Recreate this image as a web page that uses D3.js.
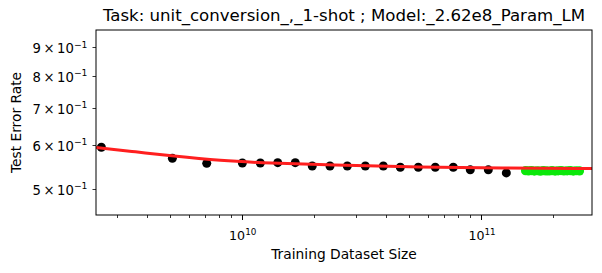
<!DOCTYPE html>
<html>
<head>
<meta charset="utf-8">
<script src="https://cdn.jsdelivr.net/npm/d3@7"></script>
<style>
  html, body { margin: 0; padding: 0; background: #fff; }
  svg { display: block; font-family: "DejaVu Sans", sans-serif; }
</style>
</head>
<body>
<svg id="chart" width="602" height="273"></svg>
<script>
// ---- data ----
const trainSizes = [2.59e9, 5.13e9, 7.14e9, 1.006e10, 1.196e10, 1.414e10, 1.674e10, 1.971e10,
  2.338e10, 2.762e10, 3.285e10, 3.907e10, 4.60e10, 5.47e10, 6.44e10, 7.66e10, 9.02e10, 1.073e11, 1.276e11];
const trainErrors = [0.5947, 0.568, 0.5563, 0.557, 0.557, 0.5578, 0.5578, 0.5502,
  0.5502, 0.5502, 0.5502, 0.5502, 0.5472, 0.5472, 0.5472, 0.5472, 0.5414, 0.5414, 0.5346];
const extraSizes = [1.535e11, 1.58e11, 1.625e11, 1.67e11, 1.72e11, 1.77e11, 1.82e11, 1.87e11, 1.925e11, 1.98e11,
  2.04e11, 2.1e11, 2.16e11, 2.22e11, 2.29e11, 2.36e11, 2.43e11, 2.5e11, 2.58e11];
const extraErrors = [0.5395, 0.5390, 0.5398, 0.5388, 0.5394, 0.5386, 0.5397, 0.5391, 0.5389, 0.5396,
  0.5387, 0.5393, 0.5398, 0.5389, 0.5392, 0.5395, 0.5388, 0.5394, 0.5391];
const fitSizes = [2.46e9, 3.62e9, 5.12e9, 8.11e9, 1.313e10, 2.34e10, 5.55e10, 1.27e11, 2.91e11];
const fitErrors = [0.5943, 0.5833, 0.5735, 0.5624, 0.5567, 0.5522, 0.5476, 0.5456, 0.5443];
const xMajorTicks = [1e10, 1e11];
const xMinorTicks = [3e9, 4e9, 5e9, 6e9, 7e9, 8e9, 9e9, 2e10, 3e10, 4e10, 5e10, 6e10, 7e10, 8e10, 9e10, 2e11];
const xTickLabels = [["10", "10"], ["10", "11"]];
const yTicks = [0.5, 0.6, 0.7, 0.8, 0.9];
const yTickMantissa = ["5", "6", "7", "8", "9"];
const titleText = "Task: unit_conversion_,_1-shot ; Model:_2.62e8_Param_LM";
const xLabel = "Training Dataset Size";
const yLabel = "Test Error Rate";

// ---- layout ----
const L = 96, R = 592, T = 30, B = 215;
const xTickFont = 12.6, yTickFont = 13.2;
const svg = d3.select("#chart");
const x = d3.scaleLog().domain([2.46e9, 2.91e11]).range([L, R]);
const y = d3.scaleLog().domain([0.449, 0.967]).range([B, T]);

const plot = svg.append("g");
plot.append("defs").append("clipPath").attr("id", "clip")
  .append("rect").attr("x", L).attr("y", T).attr("width", R - L).attr("height", B - T);

// black points
plot.append("g").selectAll("circle").data(trainSizes).join("circle")
  .attr("cx", (d) => x(d)).attr("cy", (d, i) => y(trainErrors[i]))
  .attr("r", 4.5).attr("fill", "#000");

// green points
plot.append("g").selectAll("circle").data(extraSizes).join("circle")
  .attr("cx", (d) => x(d)).attr("cy", (d, i) => y(extraErrors[i]))
  .attr("r", 4.6).attr("fill", "#0be80b");

// red fit line
const line = d3.line().x((d) => x(d[0])).y((d) => y(d[1])).curve(d3.curveBasis);
plot.append("path").datum(fitSizes.map((d, i) => [d, fitErrors[i]]))
  .attr("clip-path", "url(#clip)")
  .attr("d", line).attr("fill", "none").attr("stroke", "#ff1f1f").attr("stroke-width", 3);

// frame
svg.append("rect").attr("x", L).attr("y", T).attr("width", R - L).attr("height", B - T)
  .attr("fill", "none").attr("stroke", "#000").attr("stroke-width", 1);

// x ticks
const ax = svg.append("g");
ax.selectAll("line.maj").data(xMajorTicks).join("line").attr("class", "maj")
  .attr("x1", (d) => Math.round(x(d)) + 0.5).attr("x2", (d) => Math.round(x(d)) + 0.5)
  .attr("y1", B).attr("y2", B + 5).attr("stroke", "#000").attr("stroke-width", 1);
ax.selectAll("line.min").data(xMinorTicks).join("line").attr("class", "min")
  .attr("x1", (d) => Math.round(x(d)) + 0.5).attr("x2", (d) => Math.round(x(d)) + 0.5)
  .attr("y1", B).attr("y2", B + 3).attr("stroke", "#000").attr("stroke-width", 0.8);
xMajorTicks.forEach((d, i) => {
  const t = ax.append("text").attr("x", x(d) + 1).attr("y", 240).attr("text-anchor", "middle")
    .attr("font-size", xTickFont).attr("fill", "#000");
  t.append("tspan").text(xTickLabels[i][0]);
  t.append("tspan").attr("font-size", xTickFont * 0.7).attr("dy", -5.5).text(xTickLabels[i][1]);
});

// y ticks
yTicks.forEach((d, i) => {
  const yy = Math.round(y(d)) + 0.5;
  ax.append("line").attr("x1", L - 3.5).attr("x2", L).attr("y1", yy).attr("y2", yy)
    .attr("stroke", "#000").attr("stroke-width", 0.8);
  const t = ax.append("text").attr("x", 87.5).attr("y", y(d) + 6).attr("text-anchor", "end")
    .attr("font-size", yTickFont).attr("fill", "#000");
  t.append("tspan").text(yTickMantissa[i] + "\u2009\u00d7\u200910");
  t.append("tspan").attr("font-size", yTickFont * 0.7).attr("dy", -5.8).text("\u22121");
});

// labels
svg.append("text").attr("x", (L + R) / 2).attr("y", 259).attr("text-anchor", "middle")
  .attr("font-size", 13.8).attr("fill", "#000").text(xLabel);
svg.append("text").attr("transform", `translate(20.5, ${(T + B) / 2}) rotate(-90)`)
  .attr("text-anchor", "middle").attr("font-size", 13.8).attr("fill", "#000").text(yLabel);
svg.append("text").attr("x", (L + R) / 2).attr("y", 21).attr("text-anchor", "middle")
  .attr("font-size", 16.6).attr("fill", "#000").text(titleText);
</script>
</body>
</html>
